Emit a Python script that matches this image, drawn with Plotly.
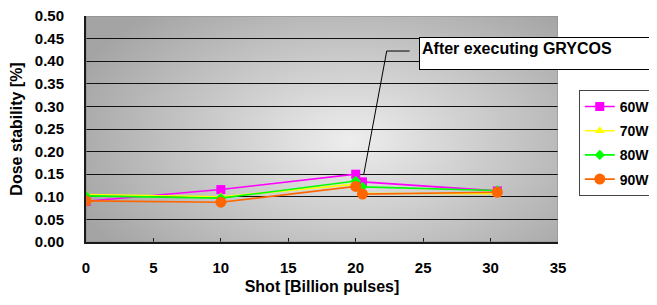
import base64, struct, zlib
import numpy as np
import plotly.graph_objects as go

# ---- data ----
shots = [0, 10, 20, 20.5, 30.5]
series_names = ["60W", "70W", "80W", "90W"]
s60 = [0.090, 0.116, 0.150, 0.133, 0.113]
s70 = [0.105, 0.100, 0.128, 0.108, 0.107]
s80 = [0.102, 0.097, 0.135, 0.122, 0.114]
s90 = [0.091, 0.088, 0.123, 0.106, 0.110]
y_ticks = [0.0, 0.05, 0.10, 0.15, 0.20, 0.25, 0.30, 0.35, 0.40, 0.45, 0.50]
x_ticks = [0, 5, 10, 15, 20, 25, 30, 35]

colors = ["#FF00FF", "#FFFF00", "#00FF00", "#FF6600"]
symbols = ["square", "triangle-up", "diamond", "circle"]
msizes = [9, 9, 8, 11]
values = [s60, s70, s80, s90]

# ---- radial gray gradient background as PNG ----
W, H = 472, 226
xx, yy = np.meshgrid(np.arange(W), np.arange(H))
cx, cy = 0.56 * W, 0.55 * H
d = np.sqrt(((xx - cx) / (0.62 * W)) ** 2 + ((yy - cy) / (0.75 * H)) ** 2)
img = np.clip(238 - 72 * d, 164, 240).astype(np.uint8)
raw = b"".join(b"\x00" + img[r].tobytes() for r in range(H))

def chunk(tag, data):
    return struct.pack(">I", len(data)) + tag + data + struct.pack(">I", zlib.crc32(tag + data) & 0xFFFFFFFF)

png = (b"\x89PNG\r\n\x1a\n" + chunk(b"IHDR", struct.pack(">IIBBBBB", W, H, 8, 0, 0, 0, 0))
       + chunk(b"IDAT", zlib.compress(raw, 9)) + chunk(b"IEND", b""))
src = "data:image/png;base64," + base64.b64encode(png).decode()

fig = go.Figure()
for name, vals, c, sym, ms in zip(series_names, values, colors, symbols, msizes):
    fig.add_trace(go.Scatter(
        x=shots, y=vals, name=name, mode="lines+markers", legendgroup=name,
        line=dict(color=c, width=1.6),
        marker=dict(symbol=sym, size=ms, color=c, line=dict(width=0)),
    ))

font = "Liberation Sans, Arial, sans-serif"
fig.update_layout(
    width=649, height=289,
    margin=dict(l=78, r=99, t=8, b=55, autoexpand=False),
    paper_bgcolor="white", plot_bgcolor="#b4b4b4",
    font=dict(family=font, size=15, color="black"),
    images=[dict(source=src, xref="x", yref="y", x=0, y=0.5, sizex=35, sizey=0.5,
                 sizing="stretch", layer="below")],
    xaxis=dict(range=[0, 35], tickvals=x_ticks, ticktext=[str(v) for v in x_ticks],
               showgrid=False, zeroline=False, showline=True, linecolor="#1a1a1a", linewidth=2,
               ticks="inside", ticklen=4, tickcolor="#1a1a1a", tickwidth=1,
               tickfont=dict(family=font, size=15, weight="bold"), ticklabelstandoff=11,
               title=dict(text="<b>Shot [Billion pulses]</b>", font=dict(size=16), standoff=6)),
    yaxis=dict(range=[0, 0.5], tickvals=y_ticks, ticktext=[f"{v:.2f}" for v in y_ticks],
               showgrid=True, gridcolor="#111111", gridwidth=1, zeroline=False,
               showline=True, linecolor="#1a1a1a", linewidth=2, ticks="",
               ticklabeloverflow="allow",
               tickfont=dict(family=font, size=15, weight="bold"), ticklabelstandoff=17,
               title=dict(text="<b>Dose stability [%]</b>", font=dict(size=16), standoff=8)),
    legend=dict(x=1.044, y=0.673, xanchor="left", yanchor="top",
                bordercolor="#444444", borderwidth=1, bgcolor="white",
                font=dict(family=font, size=14, weight="bold"),
                traceorder="grouped", tracegroupgap=3),
    showlegend=True,
    shapes=[
        dict(type="rect", xref="x", yref="y", x0=0, x1=35, y0=0, y1=0.5,
             line=dict(color="#8a8a8a", width=1), layer="above"),
        dict(type="path", xref="x", yref="y",
             path="M 24.0 0.4225 L 22.3 0.4225 L 20.6 0.15",
             line=dict(color="black", width=1)),
    ],
    annotations=[dict(text="<b>After executing GRYCOS</b>", xref="x", yref="y",
                      x=24.7, y=0.4535, xanchor="left", yanchor="top", showarrow=False,
                      align="left", valign="top", width=226, height=27,
                      bgcolor="white", bordercolor="black", borderwidth=1, borderpad=2,
                      font=dict(family=font, size=16))],
)
fig.write_html("out.html")
